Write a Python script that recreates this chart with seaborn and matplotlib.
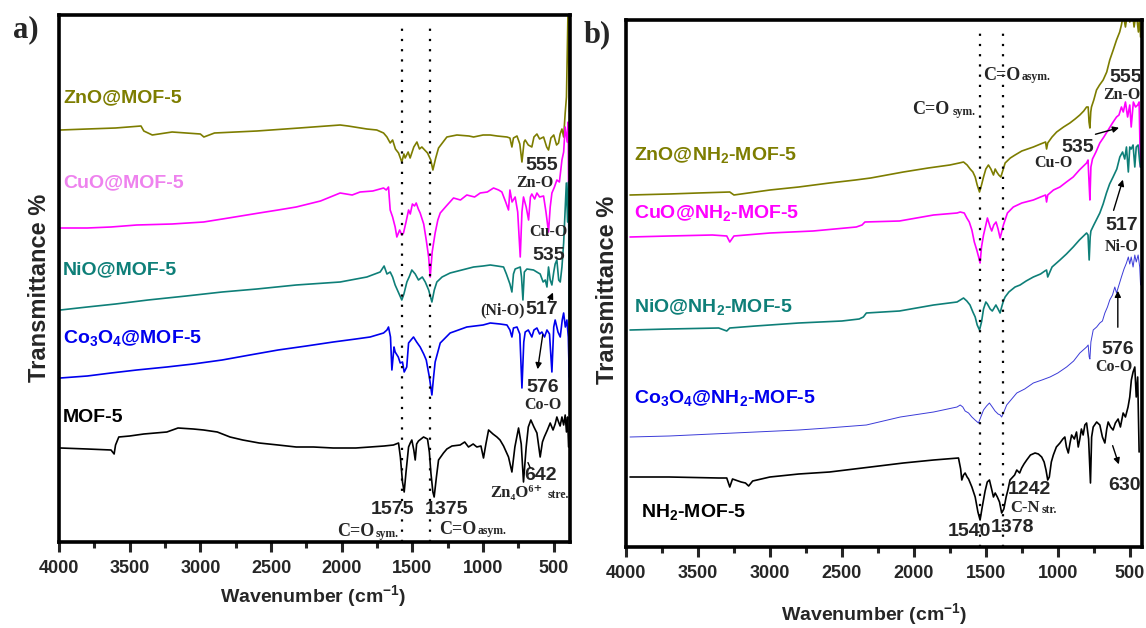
import matplotlib
matplotlib.use("Agg")
import matplotlib.pyplot as plt
from matplotlib.ticker import MultipleLocator
import seaborn as sns

# ---------------- data (wavenumber cm-1, transmittance a.u.) ----------------
a_zno = [(3990,412),(3800,413),(3600,414),(3420,416),(3400,411),(3340,407),(3200,410),(3000,408),(2975,405),(2900,409),(2600,411),(2300,414),(2011,417),(1955,416),(1822,413),(1752,412),(1704,409),(1680,405),(1657,399),(1640,402),(1620,393),(1598,389),(1575,380),(1560,388),(1551,384),(1530,390),(1516,384),(1490,395),(1468,400),(1450,393),(1433,395),(1393,389),(1370,382),(1355,372),(1335,384),(1315,394),(1256,405),(1185,407),(1100,406),(1067,405),(1000,407),(949,407),(900,406),(831,405),(810,404),(796,395),(785,404),(760,406),(740,398),(725,380),(710,400),(702,402),(680,397),(655,395),(640,405),(619,408),(600,403),(572,405),(550,395),(537,392),(520,404),(500,407),(480,397),(466,399),(455,408),(442,413),(430,405),(419,429),(410,445),(403,500),(398,540),(393,470),(388,430)]
a_cuo = [(3990,314),(3800,314),(3632,315),(3450,317),(3200,318),(2977,320),(2800,324),(2584,329),(2450,332),(2322,335),(2150,341),(2011,349),(1926,347),(1870,350),(1780,351),(1704,354),(1685,352),(1669,355),(1657,332),(1640,325),(1622,315),(1610,305),(1590,312),(1575,307),(1563,309),(1545,320),(1527,332),(1515,328),(1500,338),(1485,336),(1473,339),(1458,333),(1445,329),(1420,318),(1402,302),(1385,285),(1374,265),(1360,290),(1339,309),(1320,322),(1303,329),(1260,336),(1209,344),(1160,342),(1115,347),(1060,345),(1020,349),(970,350),(926,354),(890,352),(867,350),(840,340),(820,332),(810,352),(795,340),(773,345),(755,330),(737,285),(725,330),(714,345),(695,335),(678,322),(665,345),(655,348),(635,343),(619,349),(600,345),(572,346),(555,330),(537,310),(525,335),(513,349),(495,355),(478,362),(460,360),(442,382),(430,390),(419,415),(405,400),(398,420),(393,300),(390,225)]
a_nio = [(3990,232),(3800,235),(3600,238),(3370,242),(3100,246),(2846,250),(2600,253),(2322,257),(2011,260),(1822,265),(1728,270),(1700,276),(1680,268),(1657,270),(1640,265),(1622,257),(1600,250),(1575,242),(1560,248),(1539,260),(1520,266),(1504,272),(1480,268),(1457,262),(1430,265),(1409,260),(1385,252),(1362,240),(1345,252),(1327,260),(1290,265),(1233,269),(1150,272),(1067,275),(1000,276),(949,277),(900,276),(855,275),(835,268),(820,262),(810,258),(796,250),(785,268),(773,273),(755,274),(737,275),(728,265),(718,242),(708,270),(690,273),(643,272),(620,270),(596,268),(575,260),(560,262),(548,255),(537,275),(525,262),(513,257),(500,270),(490,278),(478,282),(465,262),(454,260),(442,275),(430,299),(420,330),(411,359),(402,320),(395,360),(390,165)]
a_co = [(3990,164),(3800,166),(3632,169),(3450,172),(3237,175),(3050,178),(2846,182),(2650,187),(2450,192),(2250,196),(2060,200),(1900,203),(1799,205),(1704,209),(1680,212),(1669,215),(1655,205),(1645,172),(1630,195),(1622,190),(1600,185),(1586,179),(1570,180),(1558,170),(1540,175),(1527,199),(1510,202),(1492,205),(1470,200),(1445,195),(1420,188),(1402,182),(1380,165),(1362,147),(1350,165),(1339,180),(1320,190),(1303,199),(1233,209),(1115,215),(1000,217),(949,219),(880,218),(831,217),(810,212),(796,205),(785,214),(760,215),(740,208),(725,154),(712,200),(702,210),(680,212),(655,205),(640,212),(619,214),(600,208),(584,210),(565,205),(548,212),(530,208),(513,170),(500,215),(490,222),(470,210),(454,205),(440,222),(430,229),(418,215),(407,222),(397,205),(388,152)]
a_mof = [(3990,94),(3800,93),(3632,92),(3610,88),(3600,97),(3577,105),(3500,106),(3400,108),(3237,110),(3158,114),(3050,113),(2977,112),(2880,110),(2790,105),(2700,102),(2584,99),(2450,97),(2322,95),(2200,95),(2060,94),(1900,94),(1799,95),(1700,96),(1634,97),(1598,99),(1585,85),(1570,60),(1558,50),(1545,70),(1527,95),(1515,99),(1504,102),(1490,92),(1480,82),(1470,98),(1457,101),(1421,105),(1393,103),(1380,90),(1369,69),(1355,50),(1346,45),(1330,65),(1315,82),(1280,89),(1256,93),(1220,96),(1162,97),(1130,100),(1103,95),(1070,98),(1044,95),(1015,96),(997,84),(980,98),(961,112),(930,108),(902,105),(880,102),(855,96),(820,85),(796,70),(775,95),(749,114),(730,98),(714,60),(695,95),(680,115),(662,122),(640,115),(619,109),(596,85),(580,100),(567,105),(545,112),(525,119),(505,112),(490,118),(478,125),(466,120),(455,116),(442,125),(430,117),(419,127),(410,110),(402,125),(395,95)]

b_zno = [(3972,352),(3700,353),(3500,354),(3279,355),(3250,352),(3000,357),(2800,360),(2586,364),(2406,367),(2300,369),(2073,375),(1900,379),(1750,382),(1685,384),(1655,385),(1630,382),(1609,378),(1590,375),(1574,370),(1560,362),(1544,355),(1530,362),(1516,370),(1500,378),(1482,382),(1465,378),(1447,372),(1435,378),(1424,375),(1410,372),(1396,370),(1385,375),(1366,384),(1330,389),(1297,392),(1250,396),(1170,400),(1120,403),(1085,405),(1078,398),(1070,404),(1040,410),(1008,415),(960,420),(916,424),(880,428),(847,432),(820,436),(800,440),(789,440),(783,425),(777,419),(771,435),(766,440),(750,447),(731,457),(710,462),(685,467),(660,475),(639,487),(615,497),(592,507),(570,515),(558,522),(545,532),(530,520),(515,535),(500,525),(485,540),(470,520),(455,535),(440,515),(431,530),(425,510)]
b_cuo = [(3972,310),(3700,311),(3400,312),(3300,311),(3279,305),(3250,311),(3000,314),(2700,316),(2400,320),(2360,322),(2340,325),(2100,326),(1863,332),(1700,334),(1678,335),(1650,334),(1632,329),(1615,325),(1597,317),(1580,305),(1563,297),(1550,290),(1540,284),(1530,300),(1516,312),(1500,322),(1489,329),(1470,320),(1459,316),(1445,322),(1429,325),(1415,318),(1401,309),(1390,315),(1378,322),(1350,334),(1309,340),(1250,344),(1170,347),(1120,350),(1085,352),(1078,345),(1070,352),(1030,357),(985,360),(940,365),(893,370),(850,377),(800,384),(790,387),(782,362),(777,347),(770,380),(759,388),(735,395),(708,404),(680,410),(650,417),(620,424),(592,430),(575,432),(558,440),(545,435),(530,445),(515,430),(500,442),(490,420),(475,445),(460,440),(445,442),(435,445),(426,380)]
b_nio = [(3972,217),(3700,218),(3356,219),(3300,216),(3279,219),(3100,221),(2800,224),(2500,226),(2380,228),(2351,230),(2330,234),(2100,236),(1863,242),(1700,245),(1655,249),(1632,246),(1610,242),(1590,235),(1574,230),(1560,222),(1544,217),(1530,225),(1516,238),(1500,245),(1489,243),(1470,238),(1455,236),(1430,242),(1415,238),(1401,234),(1390,240),(1378,246),(1366,250),(1340,255),(1297,260),(1262,262),(1220,266),(1170,270),(1120,273),(1090,276),(1078,277),(1070,270),(1040,280),(985,287),(940,293),(893,300),(850,307),(800,314),(790,312),(782,287),(775,310),(770,316),(750,322),(708,334),(685,343),(662,354),(640,363),(616,370),(590,378),(569,390),(550,395),(535,388),(523,400),(510,375),(500,400),(490,398),(477,402),(465,380),(455,400),(442,402),(431,385),(426,380)]
b_co = [(3972,110),(3700,111),(3400,113),(3099,115),(2800,117),(2600,119),(2330,122),(2094,130),(1863,135),(1700,140),(1678,142),(1660,140),(1644,136),(1620,134),(1597,130),(1575,127),(1551,124),(1535,130),(1516,137),(1495,141),(1475,144),(1455,140),(1436,136),(1415,133),(1400,132),(1390,130),(1372,136),(1355,142),(1320,148),(1285,154),(1230,158),(1170,164),(1110,167),(1054,170),(1000,174),(939,180),(890,186),(847,194),(800,200),(789,202),(782,190),(777,188),(770,205),(754,217),(730,220),(708,224),(690,226),(673,234),(655,240),(639,247),(620,252),(604,260),(592,254),(575,262),(558,270),(540,278),(523,284),(510,290),(500,283),(490,290),(477,280),(465,292),(455,285),(442,292),(431,280),(425,262)]
b_mof = [(3972,70),(3700,70),(3356,69),(3300,69),(3279,60),(3260,68),(3200,65),(3170,64),(3148,61),(3120,66),(3000,70),(2800,73),(2586,75),(2300,80),(2073,84),(1863,87),(1690,89),(1675,78),(1667,67),(1655,72),(1644,74),(1630,70),(1620,68),(1597,60),(1574,50),(1555,35),(1540,27),(1525,40),(1505,56),(1490,65),(1475,67),(1460,58),(1447,50),(1435,54),(1420,50),(1405,45),(1390,34),(1375,38),(1359,50),(1345,58),(1332,67),(1300,72),(1285,77),(1265,74),(1251,79),(1235,83),(1216,87),(1190,92),(1158,94),(1135,93),(1112,90),(1095,85),(1082,77),(1070,67),(1059,70),(1045,85),(1031,92),(1010,100),(985,104),(965,108),(951,110),(940,100),(927,94),(915,104),(904,112),(885,108),(870,115),(858,100),(847,108),(836,118),(824,112),(812,122),(800,124),(786,108),(773,64),(765,110),(754,120),(730,125),(708,122),(690,110),(673,104),(660,118),(650,125),(633,120),(616,117),(600,124),(581,128),(565,120),(546,134),(530,130),(512,140),(500,150),(489,167),(477,175),(465,180),(455,150),(445,170),(435,95)]

labels_a = ["ZnO@MOF-5", "CuO@MOF-5", "NiO@MOF-5", "Co$_3$O$_4$@MOF-5", "MOF-5"]
labels_b = ["ZnO@NH$_2$-MOF-5", "CuO@NH$_2$-MOF-5", "NiO@NH$_2$-MOF-5",
            "Co$_3$O$_4$@NH$_2$-MOF-5", "NH$_2$-MOF-5"]
xticks = [4000, 3500, 3000, 2500, 2000, 1500, 1000, 500]

# ---------------- style ----------------
sns.set_theme(style="ticks")
plt.rcParams['font.family'] = ['Liberation Sans', 'DejaVu Sans']
plt.rcParams['mathtext.fontset'] = 'custom'
plt.rcParams['mathtext.rm'] = 'Liberation Sans:bold'
plt.rcParams['mathtext.bf'] = 'Liberation Sans:bold'
plt.rcParams['mathtext.it'] = 'Liberation Sans:bold'
plt.rcParams['mathtext.default'] = 'bf'

OLIVE = '#7d7d00'
MAG = '#ff00ff'
VIOLET = '#ee82ee'
TEAL = '#0e7f78'
BLUE = '#0000ee'
BLUE2 = '#3b3bd8'
SERIF = ['Liberation Serif', 'DejaVu Serif']

fig = plt.figure(figsize=(11.46, 6.28), dpi=100)
W, H = 1146, 628
ax_a = fig.add_axes([59 / W, 1 - 542 / H, (570 - 59) / W, (542 - 15) / H])
ax_b = fig.add_axes([626 / W, 1 - 547 / H, (1142 - 626) / W, (547 - 20) / H])


def draw(ax, spec, color, lw):
    xs = [p[0] for p in spec]
    ys = [p[1] for p in spec]
    sns.lineplot(x=xs, y=ys, ax=ax, color=color, lw=lw, sort=False,
                 estimator=None, legend=False)


for ax, xmin in ((ax_a, 385), (ax_b, 415)):
    ax.set_xlim(4000, xmin)
    ax.set_ylim(0, 527)
    ax.set_yticks([])
    ax.set_xticks(xticks)
    ax.xaxis.set_minor_locator(MultipleLocator(250))
    ax.tick_params(axis='x', which='major', direction='out', length=7,
                   width=2.2, labelsize=13, pad=6)
    ax.tick_params(axis='x', which='minor', direction='out', length=4, width=2.2)
    for lab in ax.get_xticklabels():
        lab.set_fontweight('bold')
    for s in ax.spines.values():
        s.set_linewidth(2.6)
        s.set_color('black')
    ax.set_xlabel('')
    ax.set_ylabel('')

# panel a spectra
draw(ax_a, a_zno, OLIVE, 1.2)
draw(ax_a, a_cuo, MAG, 1.2)
draw(ax_a, a_nio, TEAL, 1.2)
draw(ax_a, a_co, BLUE, 1.2)
draw(ax_a, a_mof, 'black', 1.2)
# panel b spectra
draw(ax_b, b_zno, OLIVE, 1.2)
draw(ax_b, b_cuo, MAG, 1.2)
draw(ax_b, b_nio, TEAL, 1.2)
draw(ax_b, b_co, BLUE2, 0.7)
draw(ax_b, b_mof, 'black', 1.2)

dot = dict(color='black', lw=1.6, linestyle=(0, (1, 3.6)), ymax=517 / 527)
ax_a.axvline(1575, **dot)
ax_a.axvline(1375, **dot)
ax_b.axvline(1540, **dot)
ax_b.axvline(1378, **dot)

# series labels
for ax, x0, labs, ys, cols in (
        (ax_a, 3972, labels_a, [444, 359, 272, 204, 124],
         [OLIVE, VIOLET, TEAL, BLUE, 'black']),
        (ax_b, 3945, labels_b, [392, 334, 240, 149, 35],
         [OLIVE, MAG, TEAL, BLUE, 'black'])):
    for lab, y, c in zip(labs, ys, cols):
        xx = x0 if lab != "NH$_2$-MOF-5" else 3896
        ax.text(xx, y, lab, color=c, fontsize=14, fontweight='bold',
                ha='left', va='center')


def num(ax, w, t, s, size=14):
    ax.text(w, t, s, fontsize=size, fontweight='bold', ha='center', va='center')


def ser(ax, w, t, s, size=11.5, ha='center'):
    ax.text(w, t, s, fontsize=size, fontweight='bold', ha=ha, va='center',
            family=SERIF)


arrow = dict(arrowstyle='-|>', color='black', lw=1.0, mutation_scale=9)

# panel a annotations
num(ax_a, 582, 377, '555')
ser(ax_a, 631, 359, 'Zn-O')
ser(ax_a, 539, 310, 'Cu-O')
num(ax_a, 539, 287, '535')
ser(ax_a, 865, 232, '(Ni-O)')
num(ax_a, 582, 232, '517')
ax_a.annotate('', xy=(497, 252), xytext=(539, 239), arrowprops=arrow)
num(ax_a, 575, 154, '576')
ser(ax_a, 575, 137, 'Co-O')
ax_a.annotate('', xy=(617, 170), xytext=(575, 210), arrowprops=arrow)
num(ax_a, 596, 67, '642')
ax_a.annotate('', xy=(660, 72), xytext=(690, 82),
              arrowprops=dict(arrowstyle='-', color='black', lw=1.0))
ser(ax_a, 950, 49, 'Zn\u2084O\u2076\u207a', size=12, ha='left')
ser(ax_a, 546, 47, 'stre.', size=8.5, ha='left')
num(ax_a, 1643, 32, '1575')
num(ax_a, 1261, 32, '1375')
ser(ax_a, 2033, 10, 'C=O', size=13, ha='left')
ser(ax_a, 1757, 8, 'sym.', size=8.5, ha='left')
ser(ax_a, 1311, 13, 'C=O', size=13, ha='left')
ser(ax_a, 1035, 11, 'asym.', size=8.5, ha='left')

# panel b annotations
ser(ax_b, 2011, 437, 'C=O', size=13, ha='left')
ser(ax_b, 1734, 435, 'sym.', size=8.5, ha='left')
ser(ax_b, 1519, 472, 'C=O', size=13, ha='left')
ser(ax_b, 1249, 470, 'asym.', size=8.5, ha='left')
num(ax_b, 528, 470, '555')
ser(ax_b, 556, 452, 'Zn-O')
num(ax_b, 861, 400, '535')
ser(ax_b, 1034, 384, 'Cu-O')
ax_b.annotate('', xy=(556, 420), xytext=(757, 412), arrowprops=arrow)
num(ax_b, 556, 322, '517')
ser(ax_b, 556, 300, 'Ni-O')
ax_b.annotate('', xy=(542, 370), xytext=(618, 334), arrowprops=arrow)
num(ax_b, 583, 197, '576')
ser(ax_b, 611, 180, 'Co-O')
ax_b.annotate('', xy=(583, 259), xytext=(583, 217), arrowprops=arrow)
num(ax_b, 535, 62, '630')
ax_b.annotate('', xy=(570, 80), xytext=(625, 104), arrowprops=arrow)
num(ax_b, 1200, 57, '1242')
ser(ax_b, 1332, 39, 'C-N', size=12, ha='left')
ser(ax_b, 1110, 37, 'str.', size=8.5, ha='left')
num(ax_b, 1616, 15, '1540')
num(ax_b, 1318, 19, '1378')

# figure-level labels
fig.text(26 / W, 1 - 30 / H, 'a)', fontsize=22, fontweight='bold',
         family=SERIF, ha='center', va='center')
fig.text(597 / W, 1 - 35 / H, 'b)', fontsize=22, fontweight='bold',
         family=SERIF, ha='center', va='center')
for xp, yp in ((40, 288), (607, 290)):
    fig.text(xp / W, 1 - yp / H, 'Transmittance %', fontsize=17,
             fontweight='bold', rotation=90, ha='center', va='center')
for xp, yp in ((313, 596), (874, 614)):
    fig.text(xp / W, 1 - yp / H, 'Wavenumber (cm$^{-1}$)', fontsize=14,
             fontweight='bold', ha='center', va='center')

fig.savefig('out.png', dpi=100)
